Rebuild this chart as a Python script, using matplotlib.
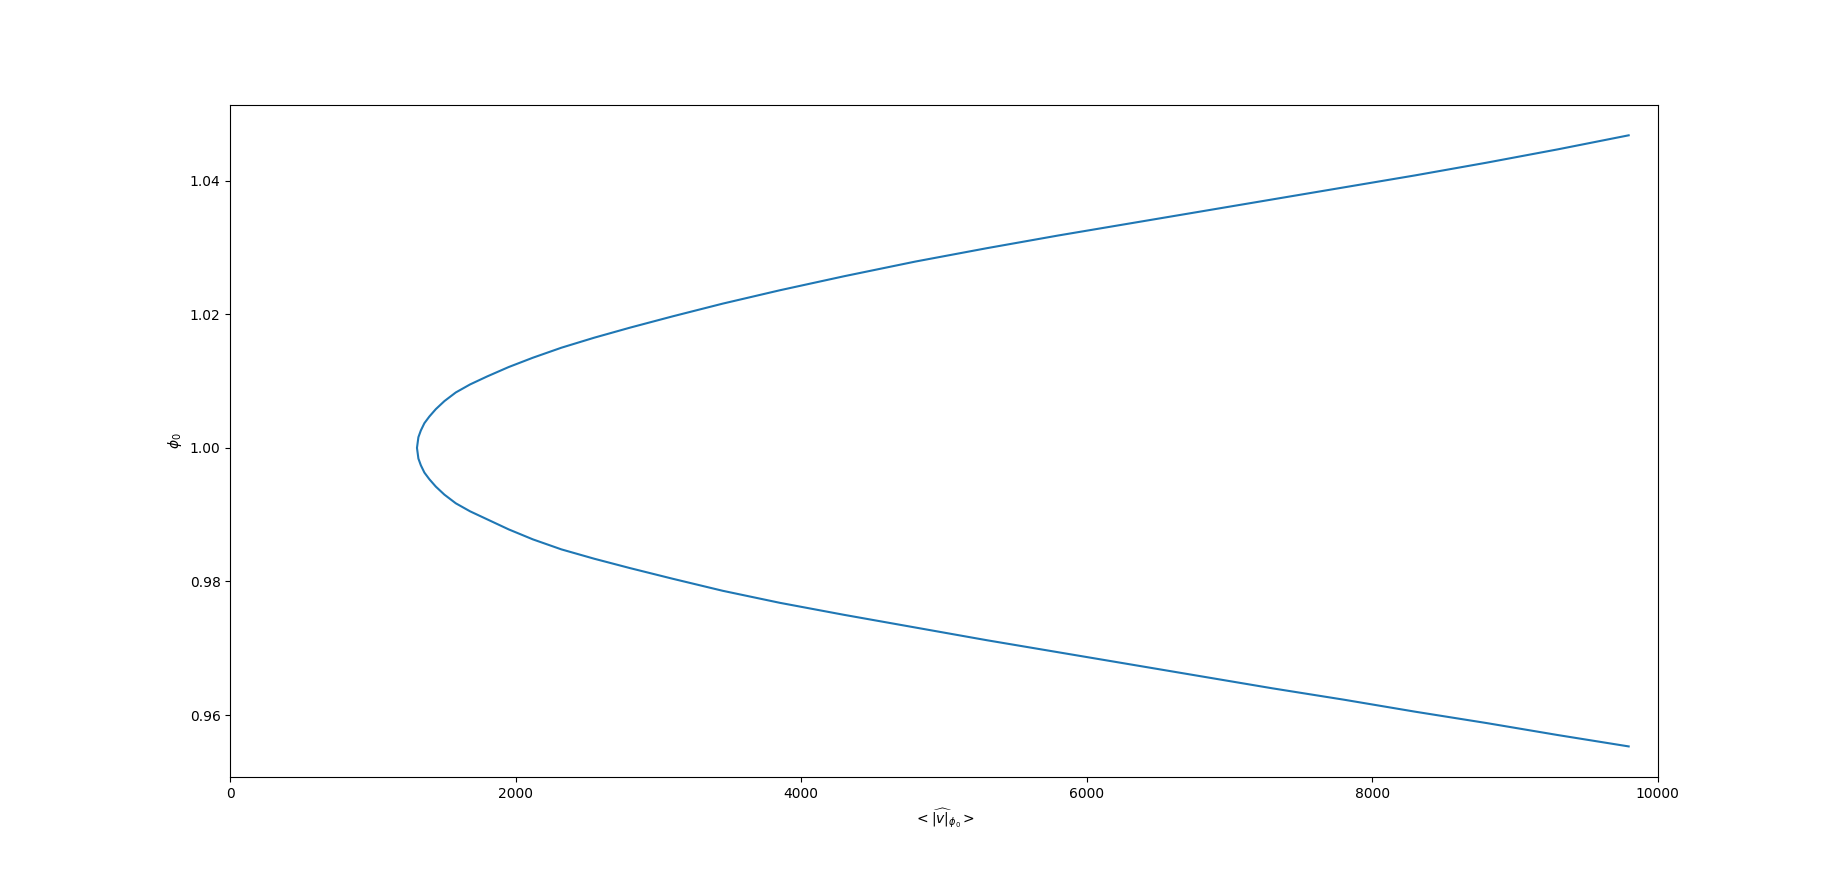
import numpy as np
import matplotlib
matplotlib.use("Agg")
import matplotlib.pyplot as plt

# mean |v| values, shared by both branches
v_mean = [1308, 1318, 1335, 1360, 1395, 1440, 1500, 1580, 1680, 1800,
          1950, 2120, 2320, 2550, 2800, 3100, 3450, 3850, 4300, 4800,
          5300, 5800, 6300, 6800, 7300, 7800, 8300, 8800, 9300, 9796]

# phi_0 on the upper branch (phi_0 > 1)
phi0_upper = [1.0000, 1.0016, 1.0026, 1.0037, 1.0047, 1.0058, 1.0070, 1.0083, 1.0095, 1.0107,
              1.0121, 1.0135, 1.0150, 1.0165, 1.0180, 1.0197, 1.0216, 1.0236, 1.0257, 1.0279,
              1.0299, 1.0318, 1.0336, 1.0354, 1.0372, 1.0390, 1.0408, 1.0427, 1.0447, 1.0468]

# phi_0 on the lower branch (phi_0 < 1)
phi0_lower = [1.0000, 0.9984, 0.9974, 0.9963, 0.9953, 0.9942, 0.9930, 0.9917, 0.9905, 0.9893,
              0.9878, 0.9863, 0.9848, 0.9834, 0.9820, 0.9804, 0.9786, 0.9768, 0.9750, 0.9731,
              0.9712, 0.9694, 0.9676, 0.9658, 0.9640, 0.9623, 0.9605, 0.9588, 0.9570, 0.9553]

# one continuous curve: lower end -> vertex -> upper end
x = v_mean[::-1] + v_mean[1:]
y = phi0_lower[::-1] + phi0_upper[1:]

fig = plt.figure(figsize=(18.42, 8.73), dpi=100)
plt.plot(x, y)
plt.xlim(0, 10000)
plt.xlabel(r"$<\widehat{|v|}_{\phi_0}>$")
plt.ylabel(r"$\phi_0$")
plt.savefig("out.png", dpi=100)
